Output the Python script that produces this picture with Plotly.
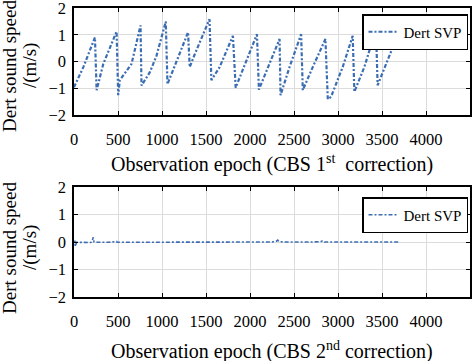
import plotly.graph_objects as go

# ---- data ----
epoch_1st = [0, 106, 238, 257, 333, 484, 502, 521, 654, 756,
             767, 862, 937, 1043, 1062, 1164, 1296, 1315, 1372, 1540,
             1561, 1655, 1806, 1837, 1958, 2079, 2101, 2203, 2336, 2347,
             2449, 2581, 2600, 2713, 2857, 2884, 2921, 3053, 3167, 3186,
             3299, 3432, 3450, 3563, 3696]
svp_1st = [-0.96, -0.21, 0.90, -1.07, -0.09, 1.12, -1.26, -0.70, -0.09, 1.35,
           -0.90, -0.40, 0.21, 1.49, -0.85, 0.00, 1.09, -0.21, 0.27, 1.58,
           -0.70, -0.21, 0.96, -0.98, 0.04, 1.02, -1.05, -0.21, 0.84, -1.26,
           -0.21, 1.02, -1.07, -0.21, 0.84, -1.41, -1.32, -0.21, 0.96, -1.13,
           -0.21, 1.21, -0.89, 0.04, 1.15]

epoch_2nd = [0, 8, 11, 14, 30, 100, 190, 205, 219, 228, 240, 400, 484, 490,
             800, 1200, 1600, 2000, 2250, 2300, 2316, 2330, 2400, 2700,
             2800, 2823, 2845, 3000, 3300, 3500, 3696]
svp_2nd = [-0.02, -0.02, 0.05, -0.16, -0.01, -0.01, -0.02, 0.02, 0.17, 0.00, -0.01, -0.01, 0.02, -0.01,
           -0.01, -0.01, 0.00, -0.01, 0.00, 0.03, 0.07, 0.01, 0.00, 0.00,
           0.01, 0.04, 0.00, 0.00, 0.01, 0.00, 0.00]

x_ticks = [0, 500, 1000, 1500, 2000, 2500, 3000, 3500, 4000]
y_ticks = [-2, -1, 0, 1, 2]
series_name = "Dert SVP"

BLUE = "#3b6db3"
FONT = "Liberation Serif, Times New Roman, serif"
W, H = 474, 361

fig = go.Figure()
fig.add_trace(go.Scatter(x=epoch_1st, y=svp_1st, mode="lines", name=series_name,
                         line=dict(color=BLUE, width=2.2, dash="4px,2px,2px,2px"),
                         xaxis="x", yaxis="y", legend="legend"))
fig.add_trace(go.Scatter(x=epoch_2nd, y=svp_2nd, mode="lines", name=series_name,
                         line=dict(color=BLUE, width=1.6, dash="4px,2px,2px,2px"),
                         xaxis="x2", yaxis="y2", legend="legend2"))

ax = dict(showline=True, linecolor="black", linewidth=1.5, mirror="allticks",
          ticks="inside", ticklen=4, tickcolor="black", tickwidth=1,
          showgrid=True, gridcolor="#dcdcdc", gridwidth=1, zeroline=False,
          automargin=False, ticklabeloverflow="allow",
          tickfont=dict(family=FONT, size=16.5, color="black"))

xdom = [74 / W, 470 / W]
ydom_top = [1 - 115 / H, 1 - 8 / H]
ydom_bot = [1 - 297 / H, 1 - 187 / H]

leg = dict(xanchor="right", yanchor="top",
           bgcolor="white", bordercolor="black", borderwidth=1.5,
           font=dict(family=FONT, size=15, color="black"),
           itemwidth=30, tracegroupgap=0)

fig.update_layout(
    width=W, height=H, autosize=False,
    font=dict(family=FONT, color="black"),
    margin=dict(l=0, r=0, t=0, b=0, autoexpand=False),
    paper_bgcolor="white", plot_bgcolor="white",
    xaxis=dict(ax, domain=xdom, range=[0, 4500], tickvals=x_ticks, anchor="y",
               ticklabelstandoff=8),
    yaxis=dict(ax, domain=ydom_top, range=[-2, 2], tickvals=y_ticks, anchor="x",
               ticklabelstandoff=3),
    xaxis2=dict(ax, domain=xdom, range=[0, 4500], tickvals=x_ticks, anchor="y2",
                ticklabelstandoff=8),
    yaxis2=dict(ax, domain=ydom_bot, range=[-2, 2], tickvals=y_ticks, anchor="x2",
                ticklabelstandoff=3),
    legend=dict(leg, x=468 / W, y=1 - 14 / H),
    legend2=dict(leg, x=468 / W, y=1 - 197 / H),
    showlegend=True,
)

title_font = dict(family=FONT, size=20, color="black")
ytitle_font = dict(family=FONT, size=19, color="black")
annots = [
    dict(text="Observation epoch (CBS 1<sup>st</sup>  correction)", x=(74 + 470) / 2 / W,
         y=1 - 163 / H, font=title_font),
    dict(text="Observation epoch (CBS 2<sup>nd</sup> correction)", x=(74 + 470) / 2 / W,
         y=1 - 350 / H, font=title_font),
    dict(text="Dert sound speed", x=9 / W, y=1 - 66 / H, textangle=-90, font=ytitle_font),
    dict(text="/(m/s)", x=30 / W, y=1 - 66 / H, textangle=-90, font=ytitle_font),
    dict(text="Dert sound speed", x=9 / W, y=1 - 248 / H, textangle=-90, font=ytitle_font),
    dict(text="/(m/s)", x=30 / W, y=1 - 248 / H, textangle=-90, font=ytitle_font),
]
for a in annots:
    fig.add_annotation(xref="paper", yref="paper", showarrow=False,
                       xanchor="center", yanchor="middle", **a)

fig.write_html("out.html", config={"displayModeBar": False},
               post_script="document.body.style.margin='0';document.body.style.overflow='hidden';")
